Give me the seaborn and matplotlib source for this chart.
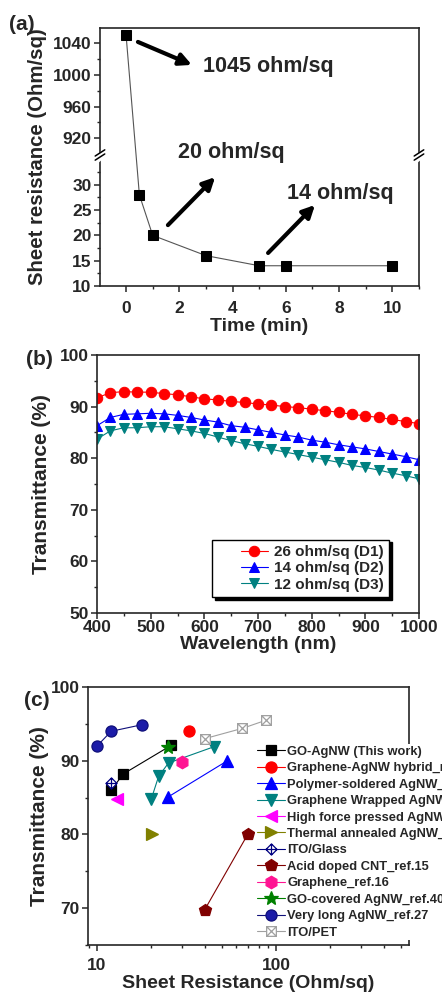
import numpy as np
import pandas as pd
import seaborn as sns
import matplotlib.pyplot as plt
from matplotlib.path import Path
from matplotlib.lines import Line2D
from matplotlib.legend_handler import HandlerLine2D
from matplotlib.ticker import FixedLocator, MultipleLocator, LogLocator, NullFormatter, FixedFormatter

# ---------------- data ----------------
# (a) sheet resistance vs. time
time_min = [0, 0.5, 1, 3, 5, 6, 10]
sheet_res = [1050, 28, 20, 16, 14, 14, 14]

# (b) transmittance spectra
wavelength = [400, 425, 450, 475, 500, 525, 550, 575, 600, 625, 650, 675, 700,
              725, 750, 775, 800, 825, 850, 875, 900, 925, 950, 975, 1000]
trans_d1 = [91.7, 92.7, 92.9, 92.8, 92.8, 92.5, 92.3, 91.9, 91.5, 91.3, 91.0, 90.8, 90.5,
            90.3, 90.0, 89.8, 89.5, 89.2, 88.9, 88.5, 88.2, 87.9, 87.5, 87.1, 86.7]
trans_d2 = [86.3, 87.9, 88.5, 88.6, 88.7, 88.6, 88.3, 87.9, 87.4, 87.0, 86.3, 86.0, 85.5,
            85.0, 84.5, 84.1, 83.5, 83.1, 82.6, 82.2, 81.8, 81.3, 80.8, 80.3, 79.7]
trans_d3 = [83.7, 85.3, 85.9, 85.9, 86.1, 86.1, 85.7, 85.3, 84.8, 84.1, 83.4, 82.8, 82.3,
            81.7, 81.2, 80.7, 80.2, 79.7, 79.2, 78.6, 78.2, 77.7, 77.1, 76.6, 76.0]
spectra_labels = ['26 ohm/sq (D1)', '14 ohm/sq (D2)', '12 ohm/sq (D3)']

# (c) comparison with literature
go_x, go_y = [12, 14, 26], [86, 88.2, 92.1]
hyb_x, hyb_y = [32.7], [94]
poly_x, poly_y = [25, 53.5], [85.1, 90]
wrap_x, wrap_y = [20.1, 22.1, 25.1, 45], [84.8, 87.9, 89.7, 91.9]
press_x, press_y = [12.9], [84.8]
anneal_x, anneal_y = [20.3], [80]
itog_x, itog_y = [12], [87]
cnt_x, cnt_y = [40, 69.5], [69.8, 80]
gr16_x, gr16_y = [30], [89.9]
gocov_x, gocov_y = [25], [91.9]
long_x, long_y = [10, 12, 17.9], [92, 94, 94.9]
itop_x, itop_y = [40, 65, 88], [93, 94.4, 95.5]

# ---------------- style ----------------
sns.set_style('ticks')
plt.rcParams['font.family'] = ['Liberation Sans', 'DejaVu Sans']
plt.rcParams['font.weight'] = 'bold'
plt.rcParams['axes.labelweight'] = 'bold'
plt.rcParams['axes.linewidth'] = 1.2
plt.rcParams['xtick.direction'] = 'out'
plt.rcParams['ytick.direction'] = 'out'
plt.rcParams['xtick.major.size'] = 4
plt.rcParams['ytick.major.size'] = 4
plt.rcParams['xtick.minor.size'] = 2.2
plt.rcParams['ytick.minor.size'] = 2.2
plt.rcParams['xtick.major.width'] = 1.1
plt.rcParams['ytick.major.width'] = 1.1
plt.rcParams['xtick.minor.width'] = 1.0
plt.rcParams['ytick.minor.width'] = 1.0
plt.rcParams['xtick.labelsize'] = 12.5
plt.rcParams['ytick.labelsize'] = 12.5
plt.rcParams['xtick.major.pad'] = 2
plt.rcParams['ytick.major.pad'] = 2

fig = plt.figure(figsize=(4.42, 9.93), dpi=100)
ax_a = fig.add_axes([0.2262, 0.712, 0.7217, 0.2598])
ax_b = fig.add_axes([0.2195, 0.3827, 0.7285, 0.2598])
ax_c = fig.add_axes([0.199, 0.0483, 0.726, 0.2598])

# ---------------- (a) broken y axis via function scale ----------------
LO_BOT, LO_TOP, HI_BOT = 10, 35.9, 899
K_LO, K_HI, EPS = 5.05, 0.7917, 1e-6
T_BRK = (LO_TOP - LO_BOT) * K_LO
GAP = (HI_BOT - LO_TOP) * EPS


def fwd(y):
    y = np.asarray(y, dtype=float)
    return np.where(y <= LO_TOP, (y - LO_BOT) * K_LO,
                    np.where(y >= HI_BOT, T_BRK + GAP + (y - HI_BOT) * K_HI,
                             T_BRK + (y - LO_TOP) * EPS))


def inv(t):
    t = np.asarray(t, dtype=float)
    return np.where(t <= T_BRK, t / K_LO + LO_BOT,
                    np.where(t >= T_BRK + GAP, (t - T_BRK - GAP) / K_HI + HI_BOT,
                             (t - T_BRK) / EPS + LO_TOP))


ax_a.set_yscale('function', functions=(fwd, inv))
sns.lineplot(x=time_min, y=sheet_res, ax=ax_a, sort=False, estimator=None,
             color='#555555', lw=0.8, marker='s', markersize=6.5,
             markerfacecolor='k', markeredgecolor='k', zorder=3)
ax_a.set_xlim(-0.98, 11.0)
ax_a.set_ylim(10, 1059)
ax_a.yaxis.set_major_locator(FixedLocator([10, 15, 20, 25, 30, 920, 960, 1000, 1040]))
ax_a.yaxis.set_major_formatter(FixedFormatter(['10', '15', '20', '25', '30', '920', '960', '1000', '1040']))
ax_a.yaxis.set_minor_locator(FixedLocator([12.5, 17.5, 22.5, 27.5, 32.5, 940, 980, 1020]))
ax_a.yaxis.set_minor_formatter(NullFormatter())
ax_a.xaxis.set_major_locator(MultipleLocator(2))
ax_a.xaxis.set_minor_locator(MultipleLocator(1))
ax_a.tick_params(axis='x', pad=6.5)
ax_a.set_xlabel('Time (min)', fontsize=14, labelpad=2)
ax_a.set_ylabel('Sheet resistance (Ohm/sq)', fontsize=14.7, labelpad=4)

# break marks
brk = (286 - 155) / 258
for xb in (0, 1):
    ax_a.plot([xb - 0.012, xb + 0.012], [brk - 0.02, brk + 0.005], transform=ax_a.transAxes,
              color='white', lw=5, clip_on=False, zorder=4)
    for off in (-0.008, 0.008):
        ax_a.plot([xb - 0.015, xb + 0.015], [brk - 0.012 + off, brk + 0.012 + off],
                  transform=ax_a.transAxes, color='k', lw=1.1, clip_on=False, zorder=5)

arrow_kw = dict(arrowstyle='-|>', lw=3, color='k', mutation_scale=18, shrinkA=0, shrinkB=0)
ax_a.annotate('', xy=(0.288, 0.857), xytext=(0.119, 0.946), xycoords='axes fraction', arrowprops=arrow_kw)
ax_a.annotate('', xy=(0.361, 0.422), xytext=(0.213, 0.236), xycoords='axes fraction', arrowprops=arrow_kw)
ax_a.annotate('', xy=(0.674, 0.314), xytext=(0.527, 0.128), xycoords='axes fraction', arrowprops=arrow_kw)
ax_a.text(0.323, 0.849, '1045 ohm/sq', transform=ax_a.transAxes, fontsize=15.5, va='center', ha='left')
ax_a.text(0.245, 0.519, '20 ohm/sq', transform=ax_a.transAxes, fontsize=15.5, va='center', ha='left')
ax_a.text(0.586, 0.360, '14 ohm/sq', transform=ax_a.transAxes, fontsize=15.5, va='center', ha='left')

# ---------------- (b) spectra ----------------
spec_colors = ['#ff0000', '#0000ff', '#008080']
spec_markers = ['o', '^', 'v']
for vals, lab, col, mk in zip([trans_d1, trans_d2, trans_d3], spectra_labels, spec_colors, spec_markers):
    sns.lineplot(x=wavelength, y=vals, ax=ax_b, sort=False, estimator=None, label=lab,
                 color=col, lw=0.8, marker=mk, markersize=7.5,
                 markerfacecolor=col, markeredgecolor=col)
ax_b.set_xlim(400, 1000)
ax_b.set_ylim(50, 100)
ax_b.xaxis.set_major_locator(MultipleLocator(100))
ax_b.xaxis.set_minor_locator(MultipleLocator(50))
ax_b.yaxis.set_major_locator(MultipleLocator(10))
ax_b.yaxis.set_minor_locator(MultipleLocator(5))
ax_b.tick_params(axis='x', pad=1)
ax_b.set_xlabel('Wavelength (nm)', fontsize=14, labelpad=1)
ax_b.set_ylabel('Transmittance (%)', fontsize=15, labelpad=6)
ax_b.legend(loc='lower right', bbox_to_anchor=(0.907, 0.062), fancybox=False,
            edgecolor='k', framealpha=1, shadow={'color': 'k', 'alpha': 1},
            prop={'weight': 'bold', 'size': 11}, labelspacing=0.15, handlelength=3.3,
            handletextpad=0.4, borderpad=0.35, borderaxespad=0,
            handler_map={Line2D: HandlerLine2D(xpad=1.55)})

# ---------------- (c) comparison ----------------
diamond_plus = Path([(0, 1), (1, 0), (0, -1), (-1, 0), (0, 1), (0, 1), (0, -1), (-1, 0), (1, 0)],
                    [Path.MOVETO, Path.LINETO, Path.LINETO, Path.LINETO, Path.CLOSEPOLY,
                     Path.MOVETO, Path.LINETO, Path.MOVETO, Path.LINETO])
square_x = Path([(-1, -1), (1, -1), (1, 1), (-1, 1), (-1, -1), (-1, -1), (1, 1), (-1, 1), (1, -1)],
                [Path.MOVETO, Path.LINETO, Path.LINETO, Path.LINETO, Path.CLOSEPOLY,
                 Path.MOVETO, Path.LINETO, Path.MOVETO, Path.LINETO])

series_c = [
    ('GO-AgNW (This work)', go_x, go_y, 's', '#000000', '#000000', 7),
    ('Graphene-AgNW hybrid_ref.', hyb_x, hyb_y, 'o', '#ff0000', '#ff0000', 8),
    ('Polymer-soldered AgNW_ref.', poly_x, poly_y, '^', '#0000ff', '#0000ff', 9),
    ('Graphene Wrapped AgNW_ref.', wrap_x, wrap_y, 'v', '#008080', '#008080', 9),
    ('High force pressed AgNW_ref.', press_x, press_y, '<', '#ff00ff', '#ff00ff', 9),
    ('Thermal annealed AgNW_ref.', anneal_x, anneal_y, '>', '#808000', '#808000', 9),
    ('ITO/Glass', itog_x, itog_y, diamond_plus, 'white', '#000080', 8),
    ('Acid doped CNT_ref.15', cnt_x, cnt_y, 'p', '#800000', '#800000', 9),
    ('Graphene_ref.16', gr16_x, gr16_y, 'h', '#ff1493', '#ff1493', 9),
    ('GO-covered AgNW_ref.40', gocov_x, gocov_y, '*', '#008000', '#008000', 10),
    ('Very long AgNW_ref.27', long_x, long_y, 'o', '#1c1ca8', '#10107a', 8),
    ('ITO/PET', itop_x, itop_y, square_x, 'white', '#a0a0a0', 7),
]
ax_c.set_xscale('log')
for name, xs, ys, mk, fc, ec, ms in series_c:
    line_col = '#a0a0a0' if name == 'ITO/PET' else ec
    sns.lineplot(x=xs, y=ys, ax=ax_c, sort=False, estimator=None, label=name,
                 color=line_col, lw=0.8, marker=mk, markersize=ms,
                 markerfacecolor=fc, markeredgecolor=ec, markeredgewidth=0.9)
ax_c.set_xlim(8.9, 553)
ax_c.set_ylim(65, 100)
ax_c.xaxis.set_major_locator(FixedLocator([10, 100]))
ax_c.xaxis.set_major_formatter(FixedFormatter(['10', '100']))
ax_c.xaxis.set_minor_locator(LogLocator(base=10, subs=np.arange(2, 10)))
ax_c.xaxis.set_minor_formatter(NullFormatter())
ax_c.yaxis.set_major_locator(MultipleLocator(10))
ax_c.yaxis.set_minor_locator(MultipleLocator(5))
ax_c.tick_params(axis='x', pad=5)
ax_c.set_xlabel('Sheet Resistance (Ohm/sq)', fontsize=14, labelpad=2)
ax_c.set_ylabel('Transmittance (%)', fontsize=15, labelpad=1)
ax_c.legend(loc='upper left', bbox_to_anchor=(0.52, 0.78), frameon=True, fancybox=False,
            edgecolor='none', facecolor='white', framealpha=1,
            prop={'weight': 'bold', 'size': 9.3}, labelspacing=0.34, handlelength=2.2,
            handletextpad=0.15, borderpad=0.15, borderaxespad=0)

# panel letters
fig.text(22 / 442, 1 - 24 / 993, '(a)', fontsize=15, ha='center', va='center')
fig.text(39 / 442, 1 - 359 / 993, '(b)', fontsize=15, ha='center', va='center')
fig.text(37 / 442, 1 - 700 / 993, '(c)', fontsize=15, ha='center', va='center')

fig.savefig('out.png', dpi=100)
